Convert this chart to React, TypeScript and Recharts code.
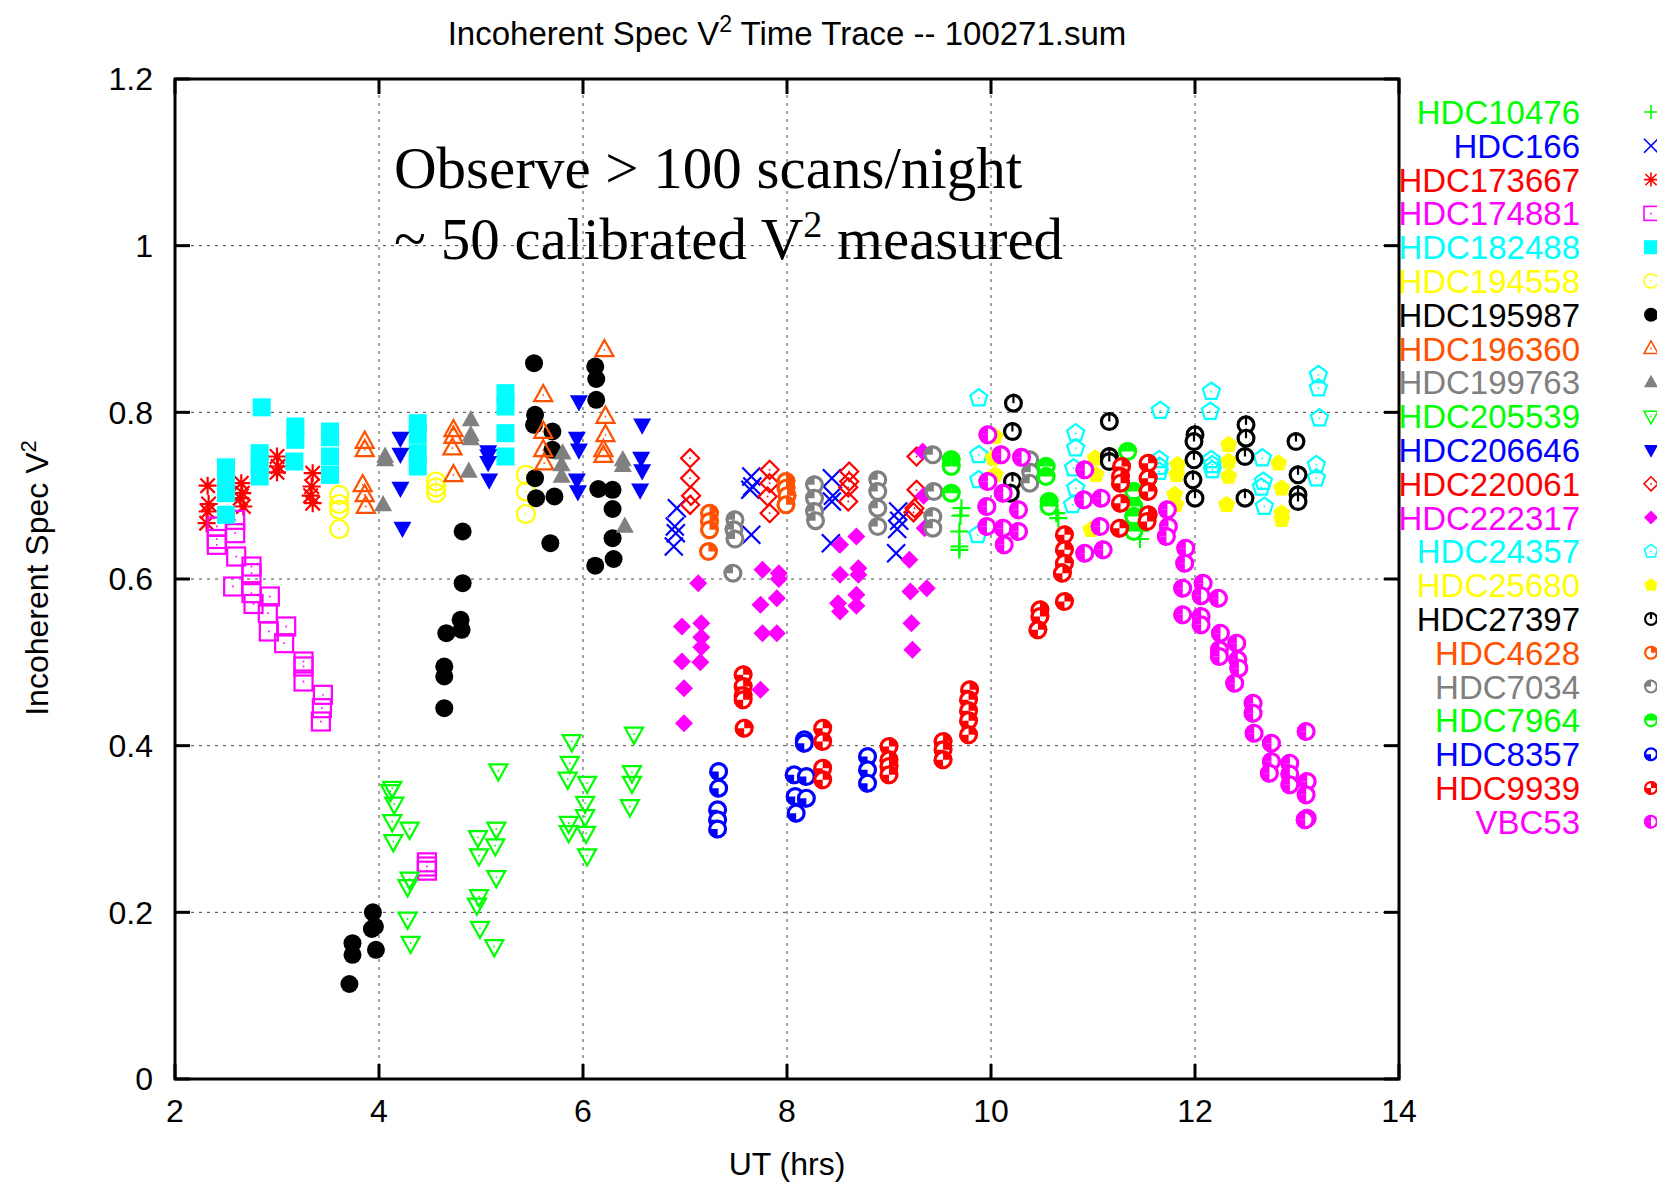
import React from "react";
import {
  ScatterChart,
  Scatter,
  XAxis,
  YAxis,
  CartesianGrid,
  ReferenceArea,
  ReferenceLine,
  Customized,
} from "recharts";

// values: [UT hrs, V^2]
const hdc10476 = [[9.71, 0.685], [9.7, 0.676], [9.69, 0.657], [9.69, 0.639], [9.69, 0.635], [10.64, 0.679], [10.66, 0.673], [11.46, 0.658], [11.46, 0.648]];
const hdc166 = [[6.92, 0.685], [6.9, 0.663], [6.91, 0.655], [6.89, 0.639], [7.65, 0.723], [7.66, 0.711], [7.64, 0.707], [7.65, 0.653], [8.44, 0.721], [8.44, 0.693], [8.45, 0.7], [8.43, 0.643], [9.09, 0.681], [9.1, 0.67], [9.08, 0.66], [9.07, 0.631]];
const hdc173667 = [[2.32, 0.712], [2.32, 0.681], [2.31, 0.667], [2.33, 0.69], [2.65, 0.715], [2.66, 0.703], [2.67, 0.687], [2.64, 0.697], [3.0, 0.747], [3.01, 0.735], [3.0, 0.728], [3.35, 0.727], [3.34, 0.711], [3.35, 0.691], [3.33, 0.7]];
const hdc174881 = [[2.41, 0.663], [2.59, 0.671], [2.59, 0.655], [2.41, 0.641], [2.41, 0.648], [2.6, 0.627], [2.75, 0.615], [2.75, 0.607], [2.57, 0.591], [2.75, 0.583], [2.77, 0.57], [2.93, 0.579], [2.91, 0.559], [2.92, 0.537], [3.09, 0.543], [3.07, 0.523], [3.26, 0.501], [3.26, 0.495], [3.26, 0.477], [3.45, 0.461], [3.44, 0.445], [3.43, 0.429], [4.47, 0.26], [4.47, 0.255], [4.47, 0.25]];
const hdc182488 = [[2.5, 0.734], [2.5, 0.719], [2.5, 0.703], [2.5, 0.677], [2.85, 0.806], [2.83, 0.751], [2.83, 0.735], [2.83, 0.723], [3.18, 0.783], [3.18, 0.767], [3.17, 0.741], [3.52, 0.777], [3.52, 0.77], [3.52, 0.747], [3.52, 0.725], [4.38, 0.787], [4.38, 0.773], [4.38, 0.751], [4.38, 0.735], [5.24, 0.823], [5.24, 0.807], [5.24, 0.775], [5.24, 0.747]];
const hdc194558 = [[3.61, 0.701], [3.61, 0.69], [3.61, 0.683], [3.61, 0.66], [4.56, 0.717], [4.56, 0.71], [4.56, 0.703], [5.44, 0.725], [5.44, 0.705], [5.44, 0.678]];
const hdc195987 = [[3.71, 0.114], [3.74, 0.163], [3.74, 0.149], [3.94, 0.2], [3.96, 0.183], [3.97, 0.155], [3.93, 0.18], [4.64, 0.445], [4.64, 0.483], [4.64, 0.495], [4.66, 0.535], [4.8, 0.551], [4.81, 0.539], [4.82, 0.595], [4.82, 0.657], [5.52, 0.859], [5.53, 0.797], [5.52, 0.785], [5.7, 0.777], [5.7, 0.755], [5.53, 0.721], [5.54, 0.697], [5.72, 0.699], [5.68, 0.643], [6.12, 0.855], [6.13, 0.84], [6.13, 0.815], [6.15, 0.708], [6.29, 0.707], [6.29, 0.684], [6.29, 0.649], [6.3, 0.624], [6.12, 0.616]];
const hdc196360 = [[3.86, 0.765], [3.86, 0.755], [3.84, 0.713], [3.86, 0.701], [3.87, 0.687], [4.73, 0.779], [4.73, 0.771], [4.72, 0.757], [4.73, 0.725], [5.61, 0.821], [5.61, 0.777], [5.61, 0.755], [5.62, 0.739], [6.21, 0.875], [6.22, 0.795], [6.22, 0.773], [6.2, 0.755], [6.2, 0.748]];
const hdc199763 = [[4.06, 0.747], [4.06, 0.743], [4.04, 0.689], [4.9, 0.791], [4.9, 0.773], [4.9, 0.768], [4.88, 0.729], [5.8, 0.751], [5.79, 0.737], [5.79, 0.723], [6.39, 0.743], [6.39, 0.736], [6.41, 0.663]];
const hdc205539 = [[4.13, 0.349], [4.11, 0.345], [4.15, 0.33], [4.13, 0.309], [4.3, 0.3], [4.14, 0.285], [4.3, 0.24], [4.28, 0.231], [4.28, 0.192], [4.31, 0.163], [5.17, 0.37], [4.97, 0.29], [5.15, 0.3], [5.14, 0.28], [4.98, 0.268], [5.15, 0.242], [4.98, 0.219], [4.96, 0.209], [4.99, 0.181], [5.13, 0.159], [5.89, 0.405], [5.87, 0.379], [5.85, 0.36], [6.04, 0.355], [6.02, 0.331], [6.02, 0.315], [5.86, 0.307], [5.86, 0.296], [6.03, 0.295], [6.04, 0.268], [6.5, 0.414], [6.48, 0.368], [6.48, 0.355], [6.46, 0.327]];
const hdc206646 = [[4.21, 0.769], [4.21, 0.75], [4.21, 0.709], [4.23, 0.661], [5.07, 0.753], [5.07, 0.748], [5.07, 0.74], [5.08, 0.719], [5.96, 0.813], [5.94, 0.769], [5.96, 0.755], [5.94, 0.719], [5.95, 0.705], [6.58, 0.785], [6.57, 0.745], [6.58, 0.73], [6.56, 0.707]];
const hdc220061 = [[7.05, 0.745], [7.05, 0.721], [7.06, 0.7], [7.05, 0.689], [7.83, 0.731], [7.83, 0.715], [7.81, 0.699], [7.83, 0.679], [8.61, 0.729], [8.61, 0.717], [8.6, 0.71], [8.6, 0.693], [9.27, 0.747], [9.27, 0.707], [9.25, 0.685], [9.24, 0.68]];
const hdc222317 = [[6.97, 0.543], [7.13, 0.595], [7.16, 0.547], [7.16, 0.53], [7.16, 0.518], [6.97, 0.501], [7.15, 0.5], [6.99, 0.469], [6.99, 0.427], [7.76, 0.611], [7.92, 0.607], [7.92, 0.6], [7.74, 0.569], [7.9, 0.577], [7.76, 0.535], [7.9, 0.535], [7.74, 0.467], [8.68, 0.651], [8.52, 0.641], [8.52, 0.605], [8.7, 0.613], [8.7, 0.605], [8.5, 0.571], [8.68, 0.581], [8.68, 0.568], [8.52, 0.561], [9.2, 0.623], [9.21, 0.585], [9.37, 0.589], [9.22, 0.547], [9.23, 0.515], [9.33, 0.753], [9.34, 0.7], [9.35, 0.661]];
const hdc24357 = [[9.88, 0.817], [9.88, 0.749], [9.88, 0.719], [9.87, 0.653], [10.83, 0.775], [10.83, 0.757], [10.81, 0.733], [10.83, 0.709], [10.8, 0.689], [11.66, 0.802], [11.65, 0.743], [11.65, 0.735], [11.65, 0.729], [12.16, 0.825], [12.15, 0.801], [12.16, 0.743], [12.17, 0.737], [12.17, 0.731], [12.66, 0.745], [12.67, 0.717], [12.65, 0.71], [12.68, 0.687], [13.21, 0.845], [13.21, 0.829], [13.22, 0.793], [13.19, 0.737], [13.19, 0.721]];
const hdc25680 = [[10.04, 0.771], [10.02, 0.745], [10.04, 0.725], [11.02, 0.745], [11.03, 0.725], [10.98, 0.659], [11.83, 0.737], [11.82, 0.725], [11.8, 0.701], [11.81, 0.689], [12.33, 0.761], [12.33, 0.741], [12.33, 0.723], [12.31, 0.689], [12.82, 0.739], [12.85, 0.709], [12.85, 0.679], [12.85, 0.671]];
const hdc27397 = [[10.22, 0.811], [10.21, 0.777], [10.21, 0.717], [10.19, 0.703], [11.16, 0.789], [11.16, 0.747], [11.16, 0.741], [12.0, 0.773], [11.99, 0.765], [11.99, 0.743], [11.98, 0.719], [12.0, 0.697], [12.5, 0.785], [12.5, 0.769], [12.49, 0.747], [12.49, 0.697], [12.99, 0.765], [13.01, 0.725], [13.01, 0.701], [13.01, 0.693]];
const hdc4628 = [[7.24, 0.679], [7.24, 0.669], [7.24, 0.659], [7.23, 0.633], [7.99, 0.717], [7.99, 0.709], [8.0, 0.7], [7.99, 0.689]];
const hdc7034 = [[7.49, 0.671], [7.48, 0.659], [7.49, 0.648], [7.47, 0.607], [8.27, 0.713], [8.27, 0.697], [8.27, 0.681], [8.28, 0.67], [8.89, 0.719], [8.89, 0.705], [8.89, 0.685], [8.89, 0.663], [9.43, 0.749], [9.44, 0.705], [9.43, 0.675], [9.43, 0.661], [10.38, 0.743], [10.39, 0.728], [10.38, 0.715]];
const hdc7964 = [[9.61, 0.743], [9.61, 0.735], [9.61, 0.703], [10.54, 0.735], [10.54, 0.723], [10.57, 0.693], [10.57, 0.687], [11.34, 0.753], [11.4, 0.705], [11.4, 0.687], [11.4, 0.675], [11.4, 0.657]];
const hdc8357 = [[7.33, 0.369], [7.33, 0.349], [7.32, 0.323], [7.32, 0.311], [7.32, 0.3], [8.17, 0.407], [8.17, 0.403], [8.07, 0.365], [8.19, 0.363], [8.08, 0.339], [8.19, 0.337], [8.09, 0.319], [8.79, 0.387], [8.79, 0.371], [8.79, 0.355]];
const hdc9939 = [[7.57, 0.485], [7.57, 0.471], [7.57, 0.46], [7.57, 0.455], [7.58, 0.421], [8.35, 0.421], [8.35, 0.405], [8.35, 0.373], [8.35, 0.359], [9.0, 0.399], [9.0, 0.383], [9.0, 0.375], [9.0, 0.365], [9.53, 0.405], [9.53, 0.395], [9.53, 0.383], [9.79, 0.467], [9.78, 0.455], [9.78, 0.442], [9.78, 0.43], [9.78, 0.413], [10.72, 0.653], [10.72, 0.635], [10.72, 0.619], [10.7, 0.607], [10.72, 0.573], [10.48, 0.563], [10.48, 0.555], [10.46, 0.539], [11.28, 0.735], [11.27, 0.723], [11.27, 0.715], [11.27, 0.691], [11.26, 0.661], [11.54, 0.739], [11.54, 0.721], [11.54, 0.705], [11.54, 0.677], [11.53, 0.669]];
const vbc53 = [[9.97, 0.773], [10.1, 0.749], [10.3, 0.746], [9.97, 0.717], [10.12, 0.703], [10.27, 0.683], [9.96, 0.687], [9.96, 0.663], [10.12, 0.661], [10.27, 0.657], [10.13, 0.641], [10.92, 0.731], [10.91, 0.695], [11.08, 0.697], [11.07, 0.663], [10.92, 0.631], [11.1, 0.635], [11.73, 0.683], [11.74, 0.663], [11.72, 0.651], [11.91, 0.637], [11.9, 0.619], [11.88, 0.589], [12.08, 0.595], [12.06, 0.58], [12.23, 0.577], [11.88, 0.557], [12.06, 0.555], [12.06, 0.545], [12.25, 0.535], [12.24, 0.515], [12.24, 0.507], [12.41, 0.523], [12.42, 0.503], [12.43, 0.493], [12.39, 0.475], [12.57, 0.451], [12.57, 0.439], [12.58, 0.415], [12.75, 0.403], [12.75, 0.381], [12.73, 0.367], [12.93, 0.379], [12.93, 0.366], [12.93, 0.353], [13.1, 0.357], [13.09, 0.341], [13.1, 0.313], [13.08, 0.311], [13.09, 0.417]];

const X_TICKS = [2, 4, 6, 8, 10, 12, 14];
const Y_TICKS = [0, 0.2, 0.4, 0.6, 0.8, 1, 1.2];

const GREEN = "#00ff00";
const BLUE = "#0000ff";
const RED = "#ff0000";
const MAGENTA = "#ff00ff";
const CYAN = "#00ffff";
const YELLOW = "#ffff00";
const BLACK = "#000000";
const ORANGE = "#ff5200";
const GRAY = "#808080";

const series = [
  { name: "HDC10476", color: GREEN, kind: "plus", data: hdc10476 },
  { name: "HDC166", color: BLUE, kind: "cross", data: hdc166 },
  { name: "HDC173667", color: RED, kind: "star", data: hdc173667 },
  { name: "HDC174881", color: MAGENTA, kind: "sqO", data: hdc174881 },
  { name: "HDC182488", color: CYAN, kind: "sqF", data: hdc182488 },
  { name: "HDC194558", color: YELLOW, kind: "ciO", data: hdc194558 },
  { name: "HDC195987", color: BLACK, kind: "ciF", data: hdc195987 },
  { name: "HDC196360", color: ORANGE, kind: "tuO", data: hdc196360 },
  { name: "HDC199763", color: GRAY, kind: "tuF", data: hdc199763 },
  { name: "HDC205539", color: GREEN, kind: "tdO", data: hdc205539 },
  { name: "HDC206646", color: BLUE, kind: "tdF", data: hdc206646 },
  { name: "HDC220061", color: RED, kind: "dmO", data: hdc220061 },
  { name: "HDC222317", color: MAGENTA, kind: "dmF", data: hdc222317 },
  { name: "HDC24357", color: CYAN, kind: "pnO", data: hdc24357 },
  { name: "HDC25680", color: YELLOW, kind: "pnF", data: hdc25680 },
  { name: "HDC27397", color: BLACK, kind: "pie", q: [], data: hdc27397 },
  { name: "HDC4628", color: ORANGE, kind: "pie", q: ["ne"], data: hdc4628 },
  { name: "HDC7034", color: GRAY, kind: "pie", q: ["nw"], data: hdc7034 },
  { name: "HDC7964", color: GREEN, kind: "pie", q: ["ne", "nw"], data: hdc7964 },
  { name: "HDC8357", color: BLUE, kind: "pie", q: ["sw"], data: hdc8357 },
  { name: "HDC9939", color: RED, kind: "pie", q: ["ne", "sw"], data: hdc9939 },
  { name: "VBC53", color: MAGENTA, kind: "pie", q: ["nw", "sw"], data: vbc53 },
];

const SANS = "'Liberation Sans', Arial, Helvetica, sans-serif";
const SERIF = "'Liberation Serif', 'Times New Roman', serif";

function pts(list: number[][]) {
  return list.map((p) => p.join(",")).join(" ");
}

function Marker({ kind, cx, cy, color, s, q }: any) {
  const r = s / 2;
  const sw = s > 14 ? 2.2 : 1.6;
  const dot = <circle cx={cx} cy={cy} r={0.9} fill={color} />;
  switch (kind) {
    case "plus":
      return <path d={`M${cx - r},${cy}H${cx + r}M${cx},${cy - r}V${cy + r}`} stroke={color} strokeWidth={sw} />;
    case "cross":
      return <path d={`M${cx - r},${cy - r}L${cx + r},${cy + r}M${cx - r},${cy + r}L${cx + r},${cy - r}`} stroke={color} strokeWidth={sw} />;
    case "star":
      return (
        <path
          d={`M${cx - r},${cy}H${cx + r}M${cx},${cy - r}V${cy + r}M${cx - r * 0.8},${cy - r * 0.8}L${cx + r * 0.8},${cy + r * 0.8}M${cx - r * 0.8},${cy + r * 0.8}L${cx + r * 0.8},${cy - r * 0.8}`}
          stroke={color}
          strokeWidth={sw}
        />
      );
    case "sqO":
      return (
        <g>
          <rect x={cx - r} y={cy - r} width={s} height={s} fill="none" stroke={color} strokeWidth={sw} />
          {dot}
        </g>
      );
    case "sqF":
      return <rect x={cx - r} y={cy - r} width={s} height={s} fill={color} />;
    case "ciO":
      return (
        <g>
          <circle cx={cx} cy={cy} r={r} fill="none" stroke={color} strokeWidth={sw} />
          {dot}
        </g>
      );
    case "ciF":
      return <circle cx={cx} cy={cy} r={r} fill={color} />;
    case "tuO":
    case "tuF": {
      const p = [[cx, cy - r * 1.1], [cx + r, cy + r * 0.7], [cx - r, cy + r * 0.7]];
      return kind === "tuF" ? (
        <polygon points={pts(p)} fill={color} />
      ) : (
        <g>
          <polygon points={pts(p)} fill="none" stroke={color} strokeWidth={sw} />
          {dot}
        </g>
      );
    }
    case "tdO":
    case "tdF": {
      const p = [[cx, cy + r * 1.1], [cx + r, cy - r * 0.7], [cx - r, cy - r * 0.7]];
      return kind === "tdF" ? (
        <polygon points={pts(p)} fill={color} />
      ) : (
        <g>
          <polygon points={pts(p)} fill="none" stroke={color} strokeWidth={sw} />
          {dot}
        </g>
      );
    }
    case "dmO":
    case "dmF": {
      const p = [[cx, cy - r], [cx + r, cy], [cx, cy + r], [cx - r, cy]];
      return kind === "dmF" ? (
        <polygon points={pts(p)} fill={color} />
      ) : (
        <g>
          <polygon points={pts(p)} fill="none" stroke={color} strokeWidth={sw} />
          {dot}
        </g>
      );
    }
    case "pnO":
    case "pnF": {
      const p = [0, 1, 2, 3, 4].map((i) => {
        const a = -Math.PI / 2 + (i * 2 * Math.PI) / 5;
        return [cx + r * Math.cos(a), cy + r * Math.sin(a)];
      });
      return kind === "pnF" ? (
        <polygon points={pts(p)} fill={color} />
      ) : (
        <g>
          <polygon points={pts(p)} fill="none" stroke={color} strokeWidth={sw} />
          {dot}
        </g>
      );
    }
    default: {
      const R = r;
      const wedge: Record<string, string> = {
        ne: `M${cx},${cy}L${cx},${cy - R}A${R},${R} 0 0 1 ${cx + R},${cy}Z`,
        nw: `M${cx},${cy}L${cx - R},${cy}A${R},${R} 0 0 1 ${cx},${cy - R}Z`,
        se: `M${cx},${cy}L${cx + R},${cy}A${R},${R} 0 0 1 ${cx},${cy + R}Z`,
        sw: `M${cx},${cy}L${cx},${cy + R}A${R},${R} 0 0 1 ${cx - R},${cy}Z`,
      };
      const cw = s > 14 ? 3.2 : 2.2;
      return (
        <g>
          <circle cx={cx} cy={cy} r={R - cw / 2} fill="#fff" stroke={color} strokeWidth={cw} />
          {(q || []).map((k: string) => (
            <path key={k} d={wedge[k]} fill={color} />
          ))}
          {(q || []).length === 0 && <line x1={cx} y1={cy} x2={cx} y2={cy - R} stroke={color} strokeWidth={2.2} />}
        </g>
      );
    }
  }
}

function Overlay() {
  return (
    <g fontFamily={SANS}>
      <text x={787} y={45} textAnchor="middle" fontSize={33} fill="#000">
        Incoherent Spec V
        <tspan dy={-13} fontSize={23}>2</tspan>
        <tspan dy={13}>{" Time Trace -- 100271.sum"}</tspan>
      </text>
      <text x={787} y={1175} textAnchor="middle" fontSize={32} fill="#000">
        UT (hrs)
      </text>
      <text transform="translate(48,578) rotate(-90)" textAnchor="middle" fontSize={32} fill="#000">
        Incoherent Spec V
        <tspan dy={-12} fontSize={22}>2</tspan>
      </text>
      <text x={394} y={188} fontSize={59} fontFamily={SERIF} fill="#000">
        {"Observe > 100 scans/night"}
      </text>
      <text x={394} y={259} fontSize={59} fontFamily={SERIF} fill="#000">
        {"~ 50 calibrated V"}
        <tspan dy={-22} fontSize={38}>2</tspan>
        <tspan dy={22}>{" measured"}</tspan>
      </text>
      {series.map((sr, i) => {
        const yc = 112 + i * 33.8;
        return (
          <g key={sr.name}>
            <text x={1580} y={yc + 12} textAnchor="end" fontSize={33} fill={sr.color}>
              {sr.name}
            </text>
            <Marker kind={sr.kind} q={sr.q} cx={1651} cy={yc} color={sr.color} s={14} />
          </g>
        );
      })}
    </g>
  );
}

const TX = 0.147;
const TY = 0.018;

export default function App() {
  return (
    <div style={{ position: "absolute", left: 0, top: 0, width: 1657, height: 1183, background: "#fff" }}>
      <ScatterChart width={1657} height={1183} margin={{ top: 79, right: 258, bottom: 0, left: 0 }}>
        <CartesianGrid stroke="#444" strokeDasharray="3 5" strokeWidth={1} />
        <XAxis
          dataKey="x"
          type="number"
          domain={[2, 14]}
          ticks={X_TICKS}
          height={104}
          axisLine={false}
          tickLine={false}
          tickSize={0}
          tickMargin={20}
          tick={{ fontSize: 32, fill: "#000", fontFamily: SANS }}
          allowDataOverflow
        />
        <YAxis
          dataKey="y"
          type="number"
          domain={[0, 1.2]}
          ticks={Y_TICKS}
          width={175}
          axisLine={false}
          tickLine={false}
          tickSize={0}
          tickMargin={22}
          tickFormatter={(v: number) => String(Number(v.toFixed(1)))}
          tick={{ fontSize: 32, fill: "#000", fontFamily: SANS }}
          allowDataOverflow
        />
        {series.map((sr) => (
          <Scatter
            key={sr.name}
            name={sr.name}
            data={sr.data.map(([x, y]) => ({ x, y }))}
            isAnimationActive={false}
            shape={(p: any) => (
              <Marker
                kind={sr.kind}
                q={sr.q}
                cx={p.cx}
                cy={p.cy}
                color={sr.color}
                s={sr.kind === "pie" ? 19 : 18}
              />
            )}
          />
        ))}
        <ReferenceArea x1={2} x2={14} y1={0} y2={1.2} fill="none" stroke="#000" strokeWidth={3} />
        {X_TICKS.map((t) => (
          <ReferenceLine key={`xb${t}`} segment={[{ x: t, y: 0 }, { x: t, y: TY }]} stroke="#000" strokeWidth={3} />
        ))}
        {X_TICKS.map((t) => (
          <ReferenceLine key={`xt${t}`} segment={[{ x: t, y: 1.2 }, { x: t, y: 1.2 - TY }]} stroke="#000" strokeWidth={3} />
        ))}
        {Y_TICKS.map((t) => (
          <ReferenceLine key={`yl${t}`} segment={[{ x: 2, y: t }, { x: 2 + TX, y: t }]} stroke="#000" strokeWidth={3} />
        ))}
        {Y_TICKS.map((t) => (
          <ReferenceLine key={`yr${t}`} segment={[{ x: 14, y: t }, { x: 14 - TX, y: t }]} stroke="#000" strokeWidth={3} />
        ))}
        <Customized component={Overlay} />
      </ScatterChart>
    </div>
  );
}
